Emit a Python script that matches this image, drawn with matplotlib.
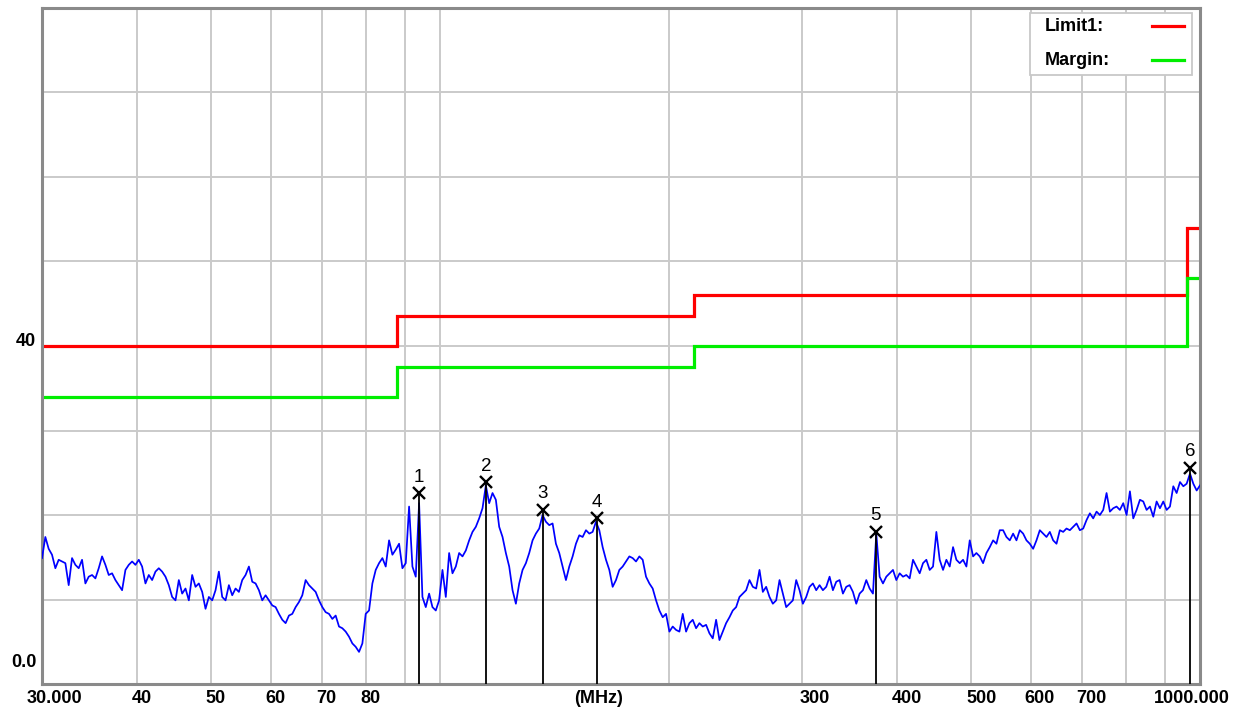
import numpy as np
import matplotlib
matplotlib.use("Agg")
import matplotlib.pyplot as plt
import matplotlib.transforms as mtransforms
from matplotlib.patches import Rectangle

# ---------------- data ----------------
# measured trace (dBuV/m), sweep points evenly spaced in log-frequency 30..1000 MHz
trace_level = [
    # 30 - ~45 MHz
    14.9, 17.4, 16.0, 15.3, 13.7, 14.7, 14.5, 14.3, 11.7, 14.9, 14.1, 13.7, 14.7, 11.9, 12.7,
    12.9, 12.5, 13.7, 15.1, 14.1, 12.9, 13.1, 12.3, 11.7, 11.1, 13.5, 14.1, 14.5, 14.1, 14.7,
    13.9, 11.9, 12.9, 12.3, 13.3, 13.7, 13.3, 12.7, 11.7, 10.3, 9.9, 12.3, 10.7, 11.3, 9.9,
    12.9, 11.5, 11.9, 10.9, 8.9, 10.3, 9.9, 11.1, 13.3, 10.3, 9.9, 11.7, 10.5, 11.3, 10.9,
    # ~55 - 100 MHz
    12.3, 12.9, 13.9, 12.1, 11.9, 11.1, 9.9, 10.5, 9.9, 9.3, 9.1, 8.3, 7.6, 7.2, 8.1,
    8.3, 9.1, 9.7, 10.5, 12.3, 11.7, 11.3, 10.9, 9.9, 9.1, 8.5, 8.3, 7.7, 8.1, 6.8,
    6.6, 6.2, 5.6, 4.8, 4.4, 3.8, 4.8, 8.3, 8.7, 11.9, 13.5, 14.3, 14.9, 13.9, 17.0,
    15.3, 15.9, 16.6, 13.7, 14.3, 21.0, 13.9, 12.7, 21.4, 10.3, 9.1, 10.7,
    # ~100 - 170 MHz
    9.1, 8.7, 9.9, 13.5, 10.3, 15.5, 13.1, 13.9, 15.5, 15.1, 15.8, 17.0, 18.0, 18.6, 19.6,
    20.8, 23.5, 21.4, 22.6, 21.8, 18.6, 17.4, 15.5, 13.9, 11.1, 9.5, 11.9, 13.5, 14.3, 15.5,
    17.0, 17.8, 18.4, 20.0, 19.2, 18.8, 19.0, 16.6, 15.5, 13.9, 12.3, 13.9, 15.1, 16.6, 17.6,
    17.4, 18.2, 17.8, 18.0, 19.2, 18.2, 16.2, 14.7, 13.5, 11.5, 12.3, 13.5,
    # ~170 - 310 MHz
    13.9, 14.5, 15.1, 14.9, 14.5, 15.1, 14.7, 12.7, 11.9, 11.3, 9.9, 8.7, 7.9, 8.3, 6.2,
    6.8, 6.4, 6.2, 8.3, 6.2, 7.2, 7.6, 6.6, 7.2, 6.8, 7.0, 6.0, 5.4, 7.6, 5.2,
    6.2, 7.2, 7.9, 8.7, 9.1, 10.3, 10.7, 11.1, 12.3, 11.5, 11.3, 13.5, 10.9, 11.5, 10.3,
    9.5, 9.9, 12.3, 10.7, 9.1, 9.5, 9.9, 12.3, 11.1, 9.5, 10.3, 11.5,
    # ~310 - 590 MHz
    11.9, 11.1, 11.7, 11.1, 11.5, 12.7, 11.1, 12.1, 12.3, 10.7, 11.5, 11.7, 10.9, 9.5, 10.7,
    11.1, 12.3, 11.3, 10.7, 17.8, 12.7, 11.9, 12.7, 13.1, 13.5, 12.3, 13.1, 12.7, 12.9, 12.5,
    14.7, 13.9, 13.1, 14.3, 14.7, 13.5, 13.9, 18.0, 14.7, 13.5, 14.7, 13.9, 16.2, 14.7, 14.3,
    14.7, 13.9, 17.0, 15.1, 15.5, 15.1, 14.3, 15.5, 16.2, 17.0, 16.6, 18.2,
    # ~590 - 1000 MHz
    18.2, 17.4, 17.0, 17.8, 17.0, 18.2, 17.8, 17.0, 16.6, 16.0, 17.0, 18.2, 17.8, 17.4, 18.0,
    17.0, 16.6, 18.2, 18.0, 18.4, 18.2, 18.6, 19.0, 18.2, 18.4, 19.4, 20.2, 19.6, 20.4, 20.0,
    20.6, 22.6, 20.4, 20.8, 21.0, 20.6, 21.4, 20.0, 22.8, 19.6, 20.6, 21.8, 21.6, 20.6, 21.0,
    19.8, 21.6, 20.8, 21.6, 20.6, 21.0, 23.4, 22.6, 23.9, 23.4, 23.7, 24.9, 23.7, 22.9, 23.5,
]
f_start, f_stop = 30.0, 1000.0

# limit lines (step edges in MHz, levels in dBuV/m)
limit_edges = [30, 88, 216, 960, 1000]
limit1_level = [40.0, 43.5, 46.0, 54.0]
margin_level = [34.0, 37.5, 40.0, 48.0]

# peak markers
marker_no = ["1", "2", "3", "4", "5", "6"]
marker_freq = [94.0, 115.2, 136.7, 161.0, 374.8, 971.0]
marker_level = [22.6, 23.9, 20.6, 19.6, 18.0, 25.6]

# axis labels
x_tick_pos = [30, 40, 50, 60, 70, 80, 162, 300, 400, 500, 600, 700, 1000]
x_tick_lab = ["30.000", "40", "50", "60", "70", "80", "(MHz)", "300", "400",
              "500", "600", "700", "1000.000"]
x_tick_dx = [12, 5, 5, 5, 5, 5, 0, 12, 9, 10, 8, 9, -8]   # px shift of label
x_grid = [40, 50, 60, 70, 80, 90, 100, 200, 300, 400, 500, 600, 700, 800, 900]
y_grid = [10, 20, 30, 40, 50, 60, 70]

# ---------------- figure ----------------
W, H, DPI = 1241, 713, 100
fig = plt.figure(figsize=(W / DPI, H / DPI), dpi=DPI, facecolor="white")
ax = fig.add_axes([42 / W, (H - 684) / H, (1200 - 42) / W, (684 - 8) / H])
ax.set_xscale("log")
ax.set_xlim(f_start, f_stop)
ax.set_ylim(0, 80)

grid_c = "#cacaca"
for g in x_grid:
    ax.axvline(g, color=grid_c, lw=1.4, zorder=0)
for g in y_grid:
    ax.axhline(g, color=grid_c, lw=1.4, zorder=0)

ax.set_xticks([])
ax.set_yticks([])
ax.xaxis.set_minor_locator(matplotlib.ticker.NullLocator())
for s in ax.spines.values():
    s.set_color("#8a8a8a")
    s.set_linewidth(2.2)

# trace
freq = np.geomspace(f_start, f_stop, len(trace_level))
ax.plot(freq, trace_level, color="#0000ff", lw=1.25, zorder=3)

# limit lines
ax.stairs(limit1_level, limit_edges, baseline=None, color="#ff0000", lw=2.3, zorder=2)
ax.stairs(margin_level, limit_edges, baseline=None, color="#00ee00", lw=2.3, zorder=2)

# markers
ax.vlines(marker_freq, 0, marker_level, color="black", lw=1.3, zorder=4)
ax.plot(marker_freq, marker_level, ls="none", marker="x", ms=9, mew=1.7,
        color="black", zorder=5)
for n, f, l in zip(marker_no, marker_freq, marker_level):
    ax.annotate(n, (f, l), xytext=(0, 11.5), textcoords="offset points",
                ha="center", va="center", fontsize=13.5, family="Liberation Sans",
                color="black", zorder=6)

# tick labels
font = dict(family="Liberation Sans", weight="bold", fontsize=13, color="black")
bt = mtransforms.blended_transform_factory(ax.transData, ax.transAxes)
for p, lab, dx in zip(x_tick_pos, x_tick_lab, x_tick_dx):
    tr = bt + mtransforms.ScaledTranslation(dx / DPI, 0, fig.dpi_scale_trans)
    ax.text(p, -0.022, lab, transform=tr, ha="center", va="center", **font)

yt = mtransforms.blended_transform_factory(ax.transAxes, ax.transData)
ax.text(-0.005, 40.5, "40", transform=yt, ha="right", va="center", **font)
ax.text(-0.005, 2.5, "0.0", transform=yt, ha="right", va="center", **font)

# legend box
ax.add_patch(Rectangle((0.853, 0.901), 0.140, 0.092, transform=ax.transAxes,
                       facecolor="white", edgecolor="#c8c8c8", lw=1.3, zorder=7))
ax.text(0.866, 0.973, "Limit1:", transform=ax.transAxes, ha="left", va="center",
        zorder=8, **font)
ax.text(0.866, 0.923, "Margin:", transform=ax.transAxes, ha="left", va="center",
        zorder=8, **font)
ax.plot([0.9585, 0.986], [0.973, 0.973], transform=ax.transAxes, color="#ff0000",
        lw=2.3, zorder=8)
ax.plot([0.9585, 0.986], [0.923, 0.923], transform=ax.transAxes, color="#00ee00",
        lw=2.3, zorder=8)

fig.savefig("out.png", dpi=DPI, facecolor="white")
